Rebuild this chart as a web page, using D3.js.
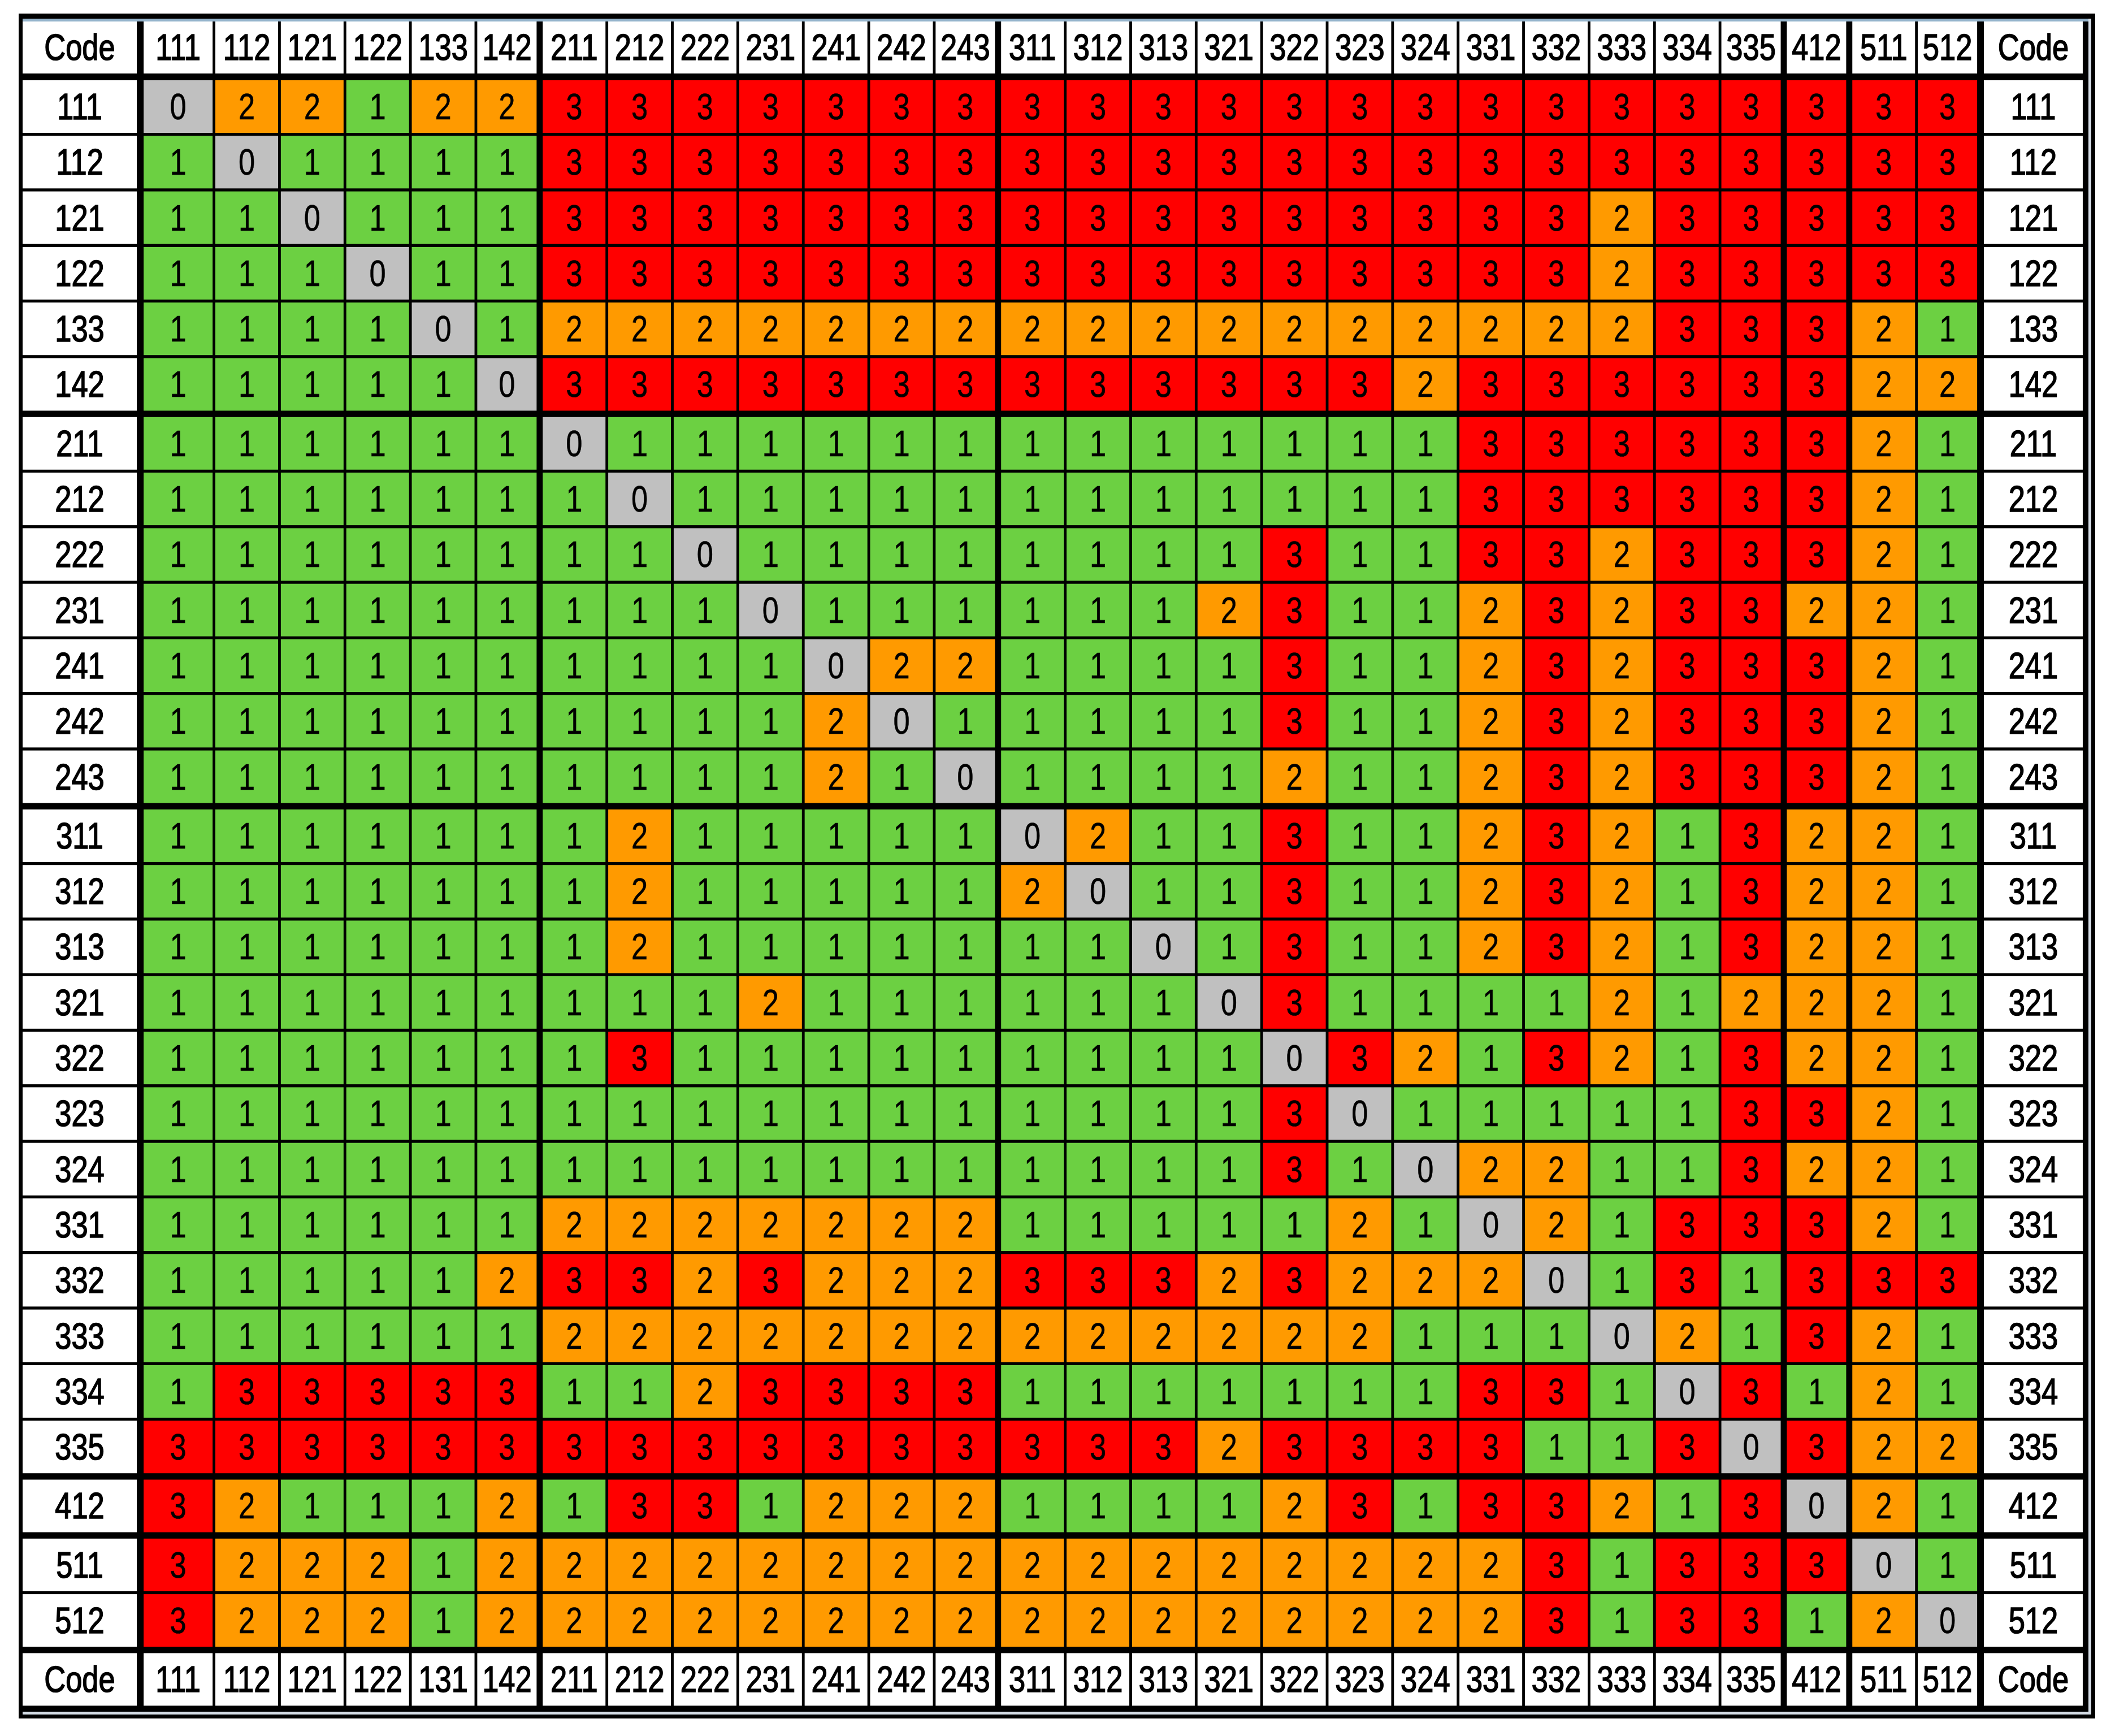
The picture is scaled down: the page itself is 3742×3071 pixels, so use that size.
<!DOCTYPE html>
<html>
<head>
<meta charset="utf-8">
<script src="https://cdn.jsdelivr.net/npm/d3@7"></script>
<style>
  html, body { margin: 0; padding: 0; background: #fff; }
  svg text { font-family: "Liberation Sans", Arial, "Helvetica", sans-serif; }
</style>
</head>
<body>
<div id="chart"></div>
<script>

// codes along the top header and down the rows
var colCodes = ["111", "112", "121", "122", "133", "142",
                "211", "212", "222", "231", "241", "242", "243",
                "311", "312", "313", "321", "322", "323", "324", "331", "332", "333", "334", "335",
                "412", "511", "512"];

// bottom header row (reads 131 in the fifth column)
var bottomCodes = ["111", "112", "121", "122", "131", "142",
                   "211", "212", "222", "231", "241", "242", "243",
                   "311", "312", "313", "321", "322", "323", "324", "331", "332", "333", "334", "335",
                   "412", "511", "512"];

var rowCodes = colCodes.slice();

var cornerLabel = "Code";

// one line per row code, columns in colCodes order
var scores = [
  [0,2,2,1,2,2, 3,3,3,3,3,3,3, 3,3,3,3,3,3,3,3,3,3,3,3, 3, 3,3], // 111
  [1,0,1,1,1,1, 3,3,3,3,3,3,3, 3,3,3,3,3,3,3,3,3,3,3,3, 3, 3,3], // 112
  [1,1,0,1,1,1, 3,3,3,3,3,3,3, 3,3,3,3,3,3,3,3,3,2,3,3, 3, 3,3], // 121
  [1,1,1,0,1,1, 3,3,3,3,3,3,3, 3,3,3,3,3,3,3,3,3,2,3,3, 3, 3,3], // 122
  [1,1,1,1,0,1, 2,2,2,2,2,2,2, 2,2,2,2,2,2,2,2,2,2,3,3, 3, 2,1], // 133
  [1,1,1,1,1,0, 3,3,3,3,3,3,3, 3,3,3,3,3,3,2,3,3,3,3,3, 3, 2,2], // 142
  [1,1,1,1,1,1, 0,1,1,1,1,1,1, 1,1,1,1,1,1,1,3,3,3,3,3, 3, 2,1], // 211
  [1,1,1,1,1,1, 1,0,1,1,1,1,1, 1,1,1,1,1,1,1,3,3,3,3,3, 3, 2,1], // 212
  [1,1,1,1,1,1, 1,1,0,1,1,1,1, 1,1,1,1,3,1,1,3,3,2,3,3, 3, 2,1], // 222
  [1,1,1,1,1,1, 1,1,1,0,1,1,1, 1,1,1,2,3,1,1,2,3,2,3,3, 2, 2,1], // 231
  [1,1,1,1,1,1, 1,1,1,1,0,2,2, 1,1,1,1,3,1,1,2,3,2,3,3, 3, 2,1], // 241
  [1,1,1,1,1,1, 1,1,1,1,2,0,1, 1,1,1,1,3,1,1,2,3,2,3,3, 3, 2,1], // 242
  [1,1,1,1,1,1, 1,1,1,1,2,1,0, 1,1,1,1,2,1,1,2,3,2,3,3, 3, 2,1], // 243
  [1,1,1,1,1,1, 1,2,1,1,1,1,1, 0,2,1,1,3,1,1,2,3,2,1,3, 2, 2,1], // 311
  [1,1,1,1,1,1, 1,2,1,1,1,1,1, 2,0,1,1,3,1,1,2,3,2,1,3, 2, 2,1], // 312
  [1,1,1,1,1,1, 1,2,1,1,1,1,1, 1,1,0,1,3,1,1,2,3,2,1,3, 2, 2,1], // 313
  [1,1,1,1,1,1, 1,1,1,2,1,1,1, 1,1,1,0,3,1,1,1,1,2,1,2, 2, 2,1], // 321
  [1,1,1,1,1,1, 1,3,1,1,1,1,1, 1,1,1,1,0,3,2,1,3,2,1,3, 2, 2,1], // 322
  [1,1,1,1,1,1, 1,1,1,1,1,1,1, 1,1,1,1,3,0,1,1,1,1,1,3, 3, 2,1], // 323
  [1,1,1,1,1,1, 1,1,1,1,1,1,1, 1,1,1,1,3,1,0,2,2,1,1,3, 2, 2,1], // 324
  [1,1,1,1,1,1, 2,2,2,2,2,2,2, 1,1,1,1,1,2,1,0,2,1,3,3, 3, 2,1], // 331
  [1,1,1,1,1,2, 3,3,2,3,2,2,2, 3,3,3,2,3,2,2,2,0,1,3,1, 3, 3,3], // 332
  [1,1,1,1,1,1, 2,2,2,2,2,2,2, 2,2,2,2,2,2,1,1,1,0,2,1, 3, 2,1], // 333
  [1,3,3,3,3,3, 1,1,2,3,3,3,3, 1,1,1,1,1,1,1,3,3,1,0,3, 1, 2,1], // 334
  [3,3,3,3,3,3, 3,3,3,3,3,3,3, 3,3,3,2,3,3,3,3,1,1,3,0, 3, 2,2], // 335
  [3,2,1,1,1,2, 1,3,3,1,2,2,2, 1,1,1,1,2,3,1,3,3,2,1,3, 0, 2,1], // 412
  [3,2,2,2,1,2, 2,2,2,2,2,2,2, 2,2,2,2,2,2,2,2,3,1,3,3, 3, 0,1], // 511
  [3,2,2,2,1,2, 2,2,2,2,2,2,2, 2,2,2,2,2,2,2,2,3,1,3,3, 1, 2,0]  // 512
];

var scoreLevels = [0, 1, 2, 3];
var scoreColors = ["#c0c0c0", "#6cd042", "#ff9a00", "#ff0000"];

// ---- layout ----
var width = 3742,
    height = 3071;

var L = {
  frameX: 33, frameY: 24, frameR: 3707, frameB: 3040,
  tableX: 40, tableY: 38, tableR: 3695, tableB: 3028,
  leftLabelW: 202,
  rightLabelW: 175,
  colStep: 115.85,
  colStart: 265.15,
  cellW: 111,
  firstColExtra: 11,
  rowStep: 98.3,
  rowStart: 142,
  cellH: 93,
  headerH: 92,
  sepCut: 6,      // thick vertical rule eats into the last cell of a group
  sepExtra: 6,    // thick horizontal rule pushes the next group down
  fontSize: 64,
  narrow: 0.82    // squeeze the sans face to a narrow cut
};

function groupOf(code) { return code.charAt(0); }

var groupKeys = Array.from(new Set(rowCodes.map(groupOf)));

function isLastInGroup(list, i) {
  return i === list.length - 1 || groupOf(list[i]) !== groupOf(list[i + 1]);
}

var color = d3.scaleOrdinal()
  .domain(scoreLevels)
  .range(scoreColors);

var x = d3.scaleBand()
  .domain(colCodes)
  .range([L.colStart, L.colStart + colCodes.length * L.colStep]);

var y = d3.scaleBand()
  .domain(rowCodes)
  .range([L.rowStart, L.rowStart + rowCodes.length * L.rowStep]);

function colX(i) {
  var x0 = x(colCodes[i]);
  return i === 0 ? x0 - L.firstColExtra : x0;
}
function colW(i) {
  var w = L.cellW;
  if (i === 0) w += L.firstColExtra;
  if (isLastInGroup(colCodes, i)) w -= L.sepCut;
  return w;
}
function rowY(i) {
  return y(rowCodes[i]) + groupKeys.indexOf(groupOf(rowCodes[i])) * L.sepExtra;
}

function centerText(sel, box, strokeW) {
  sel.attr("transform", function(d) {
      var b = box(d);
      return "translate(" + (b.x + b.w / 2) + "," + (b.y + b.h / 2) + ") scale(" + L.narrow + ",1)";
    })
    .attr("text-anchor", "middle")
    .attr("dominant-baseline", "central")
    .attr("font-size", L.fontSize)
    .attr("fill", "#000")
    .attr("stroke", "#000")
    .attr("stroke-width", strokeW);
}

var lastRow = rowCodes.length - 1;
var footerY = rowY(lastRow) + L.rowStep + L.sepExtra;
var rightLabelX = x(colCodes[colCodes.length - 1]) + L.colStep + 1;

var svg = d3.select("#chart")
  .append("svg")
  .attr("width", width)
  .attr("height", height);

svg.append("rect")
  .attr("width", width)
  .attr("height", height)
  .attr("fill", "#fff");

// outer frame, light gridline strip, then the black table body
svg.append("rect")
  .attr("x", L.frameX).attr("y", L.frameY)
  .attr("width", L.frameR - L.frameX).attr("height", L.frameB - L.frameY)
  .attr("fill", "#000");

svg.append("rect")
  .attr("x", L.tableX).attr("y", L.frameY + 9)
  .attr("width", L.frameR - 7 - L.tableX).attr("height", L.frameB - 7 - L.frameY - 9)
  .attr("fill", "#d5dde6");

svg.append("rect")
  .attr("x", L.tableX).attr("y", L.frameY + 9)
  .attr("width", L.tableR - L.tableX).attr("height", 5)
  .attr("fill", "#95b4cc");

svg.append("rect")
  .attr("x", L.tableX).attr("y", L.tableY)
  .attr("width", L.tableR - L.tableX).attr("height", L.tableB - L.tableY)
  .attr("fill", "#000");

// ---- label cells (white) ----
var labelCells = [];

colCodes.forEach(function(code, i) {
  labelCells.push({ x: colX(i), y: L.tableY, w: colW(i), h: L.headerH, text: code });
  labelCells.push({ x: colX(i), y: footerY, w: colW(i), h: L.cellH, text: bottomCodes[i] });
});

rowCodes.forEach(function(code, i) {
  labelCells.push({ x: L.tableX, y: rowY(i), w: L.leftLabelW, h: L.cellH, text: code });
  labelCells.push({ x: rightLabelX, y: rowY(i), w: L.rightLabelW, h: L.cellH, text: code });
});

[L.tableY, footerY].forEach(function(yy, k) {
  var h = k === 0 ? L.headerH : L.cellH;
  labelCells.push({ x: L.tableX, y: yy, w: L.leftLabelW, h: h, text: cornerLabel });
  labelCells.push({ x: rightLabelX, y: yy, w: L.rightLabelW, h: h, text: cornerLabel });
});

var labels = svg.append("g").attr("class", "labels")
  .selectAll("g")
  .data(labelCells)
  .enter()
  .append("g");

labels.append("rect")
  .attr("x", function(d) { return d.x; })
  .attr("y", function(d) { return d.y; })
  .attr("width", function(d) { return d.w; })
  .attr("height", function(d) { return d.h; })
  .attr("fill", "#fff");

labels.append("text")
  .call(centerText, function(d) { return d; }, 1.6)
  .text(function(d) { return d.text; });

// ---- score cells ----
var cells = [];
scores.forEach(function(row, r) {
  row.forEach(function(v, c) {
    cells.push({ r: r, c: c, value: v });
  });
});

function cellBox(d) {
  return { x: colX(d.c), y: rowY(d.r), w: colW(d.c), h: L.cellH };
}

var cell = svg.append("g").attr("class", "cells")
  .selectAll("g")
  .data(cells)
  .enter()
  .append("g");

cell.append("rect")
  .attr("x", function(d) { return cellBox(d).x; })
  .attr("y", function(d) { return cellBox(d).y; })
  .attr("width", function(d) { return cellBox(d).w; })
  .attr("height", L.cellH)
  .attr("fill", function(d) { return color(d.value); });

cell.append("text")
  .call(centerText, cellBox, 0.6)
  .text(function(d) { return d.value; });

</script>
</body>
</html>
